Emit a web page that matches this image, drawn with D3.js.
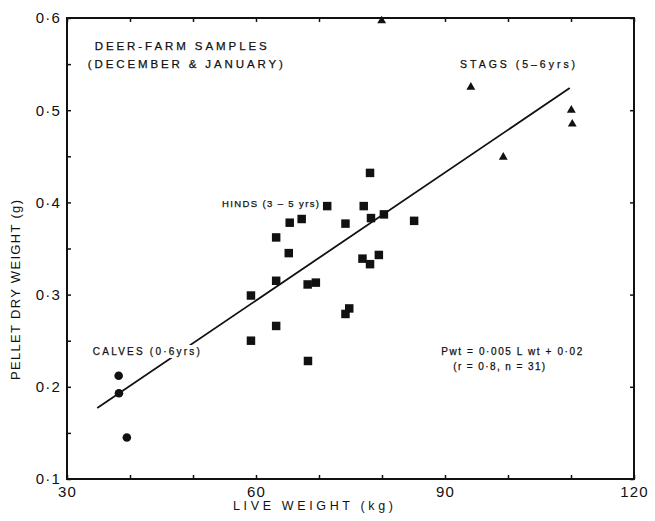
<!DOCTYPE html>
<html>
<head>
<meta charset="utf-8">
<script src="https://cdn.jsdelivr.net/npm/d3@7"></script>
<style>
  body { margin: 0; background: #fff; }
  text { font-family: "Liberation Sans", Arial, sans-serif; fill: #111; }
</style>
</head>
<body>
<div id="chart"></div>
<script>
// values: live weight (kg), pellet dry weight (g)
var calves_x = [38.2, 38.25, 39.5];
var calves_y = [0.212, 0.193, 0.145];

var hinds_x = [71.3, 77.1, 67.25, 65.35, 74.2, 78.25, 80.3, 85.1, 63.2, 65.2, 76.9, 78.1,
               79.5, 63.2, 68.2, 69.5, 59.2, 74.8, 74.2, 63.2, 59.2, 68.25, 78.1];
var hinds_y = [0.396, 0.396, 0.382, 0.378, 0.377, 0.383, 0.387, 0.380, 0.362, 0.345, 0.339, 0.333,
               0.343, 0.315, 0.311, 0.313, 0.299, 0.285, 0.279, 0.266, 0.250, 0.228, 0.432];

var stags_x = [94.1, 99.25, 110.05, 110.2, 79.95];
var stags_y = [0.525, 0.449, 0.500, 0.485, 0.597];

// fitted line as drawn
var fit_x = [34.8, 109.8];
var fit_y = [0.177, 0.524];

var x_ticks = [30, 40, 50, 60, 70, 80, 90, 100, 110, 120];
var x_labels = [30, 60, 90, 120];
var y_ticks = [0.1, 0.15, 0.2, 0.25, 0.3, 0.35, 0.4, 0.45, 0.5, 0.55, 0.6];
var y_labels = [0.1, 0.2, 0.3, 0.4, 0.5, 0.6];

var width = 655;
var height = 521;
var margin = {top: 18, right: 21, bottom: 42, left: 67};

var svg = d3.select("#chart")
            .append("svg")
            .attr("width", width)
            .attr("height", height);

var xScale = d3.scaleLinear()
               .domain([30, 120])
               .range([margin.left, width - margin.right]);
var yScale = d3.scaleLinear()
               .domain([0.1, 0.6])
               .range([height - margin.bottom, margin.top]);

function dotFormat(d) {
  return d3.format(".1f")(d).replace(".", "\u00b7");
}

// axes, ticks all point inward
var xAxis = d3.axisBottom(xScale)
              .tickValues(x_ticks)
              .tickSizeInner(-4).tickSizeOuter(0)
              .tickPadding(7)
              .tickFormat(function(d) { return x_labels.indexOf(d) >= 0 ? d : ""; });
var xTop = d3.axisTop(xScale).tickValues(x_ticks).tickSizeInner(-4).tickSizeOuter(0).tickFormat("");
var yAxis = d3.axisLeft(yScale)
              .tickValues(y_ticks)
              .tickSizeInner(-4).tickSizeOuter(0)
              .tickPadding(6)
              .tickFormat(function(d) {
                return y_labels.some(function(v) { return Math.abs(v - d) < 1e-9; }) ? dotFormat(d) : "";
              });
var yRight = d3.axisRight(yScale).tickValues(y_labels).tickSizeInner(-4).tickSizeOuter(0).tickFormat("");

function styleAxis(g) {
  g.select(".domain").remove();
  g.selectAll("line").attr("stroke", "#111").attr("stroke-width", 1.5);
  g.selectAll("text").attr("font-size", 15).attr("letter-spacing", 1.2)
   .attr("font-family", "Liberation Sans, Arial, sans-serif").attr("fill", "#111");
}

svg.append("g").attr("transform", "translate(0," + (height - margin.bottom) + ")").call(xAxis).call(styleAxis);
svg.append("g").attr("transform", "translate(0," + margin.top + ")").call(xTop).call(styleAxis);
svg.append("g").attr("transform", "translate(" + margin.left + ",0)").call(yAxis).call(styleAxis);
svg.append("g").attr("transform", "translate(" + (width - margin.right) + ",0)").call(yRight).call(styleAxis);

// frame
svg.append("rect")
   .attr("x", margin.left)
   .attr("y", margin.top)
   .attr("width", width - margin.left - margin.right)
   .attr("height", height - margin.top - margin.bottom)
   .attr("fill", "none")
   .attr("stroke", "#111")
   .attr("stroke-width", 2);

// regression line
svg.append("line")
   .attr("x1", xScale(fit_x[0])).attr("y1", yScale(fit_y[0]))
   .attr("x2", xScale(fit_x[1])).attr("y2", yScale(fit_y[1]))
   .attr("stroke", "#111")
   .attr("stroke-width", 1.8);

// markers
var calves = d3.zip(calves_x, calves_y);
var hinds = d3.zip(hinds_x, hinds_y);
var stags = d3.zip(stags_x, stags_y);

svg.append("g").selectAll("circle")
   .data(calves).enter()
   .append("circle")
   .attr("cx", function(d) { return xScale(d[0]); })
   .attr("cy", function(d) { return yScale(d[1]); })
   .attr("r", 4.3)
   .attr("fill", "#111");

svg.append("g").selectAll("path")
   .data(hinds).enter()
   .append("path")
   .attr("d", d3.symbol(d3.symbolSquare, 72))
   .attr("transform", function(d) { return "translate(" + xScale(d[0]) + "," + yScale(d[1]) + ")"; })
   .attr("fill", "#111");

svg.append("g").selectAll("path")
   .data(stags).enter()
   .append("path")
   .attr("d", d3.symbol(d3.symbolTriangle, 34))
   .attr("transform", function(d) { return "translate(" + xScale(d[0]) + "," + yScale(d[1]) + ")"; })
   .attr("fill", "#111");

// annotations: [text, x (kg), y (g), font size, target width]
var notes = [
  ["DEER-FARM SAMPLES", 34.4, 0.565, 11.5, 172],
  ["(DECEMBER  & JANUARY)", 33.3, 0.546, 11.5, 195],
  ["HINDS (3 \u2013 5 yrs)", 54.6, 0.395, 9.5, 97],
  ["STAGS  (5\u20136yrs)", 92.4, 0.546, 10.5, 115],
  ["CALVES (0\u00b76yrs)", 34.1, 0.2345, 10, 107],
  ["Pwt = 0\u00b7005 L wt + 0\u00b702", 89.4, 0.2345, 10, 141],
  ["(r = 0\u00b78,  n = 31)", 91.3, 0.218, 10, 92]
];

var noteGroup = svg.append("g");
notes.forEach(function(n) {
  var t = noteGroup.append("text")
                   .attr("x", xScale(n[1]))
                   .attr("y", yScale(n[2]))
                   .attr("font-size", n[3])
                   .attr("textLength", n[4])
                   .attr("lengthAdjust", "spacing")
                   .attr("stroke", "#111")
                   .attr("stroke-width", 0.25)
                   .text(n[0]);
  if (n[0].indexOf("CALVES") === 0) {
    // the fitted line is broken where it runs into this label
    var bb = t.node().getBBox();
    noteGroup.insert("rect", "text")
             .attr("x", bb.x - 2).attr("y", bb.y - 1)
             .attr("width", bb.width + 4).attr("height", bb.height + 2)
             .attr("fill", "#fff");
  }
});

// axis titles
svg.append("text")
   .attr("x", 233)
   .attr("y", 510)
   .attr("font-size", 12.5)
   .attr("textLength", 160)
   .attr("lengthAdjust", "spacing")
   .text("LIVE WEIGHT  (kg)");

svg.append("text")
   .attr("transform", "translate(20,380) rotate(-90)")
   .attr("font-size", 13)
   .attr("textLength", 180)
   .attr("lengthAdjust", "spacing")
   .text("PELLET DRY WEIGHT (g)");
</script>
</body>
</html>
